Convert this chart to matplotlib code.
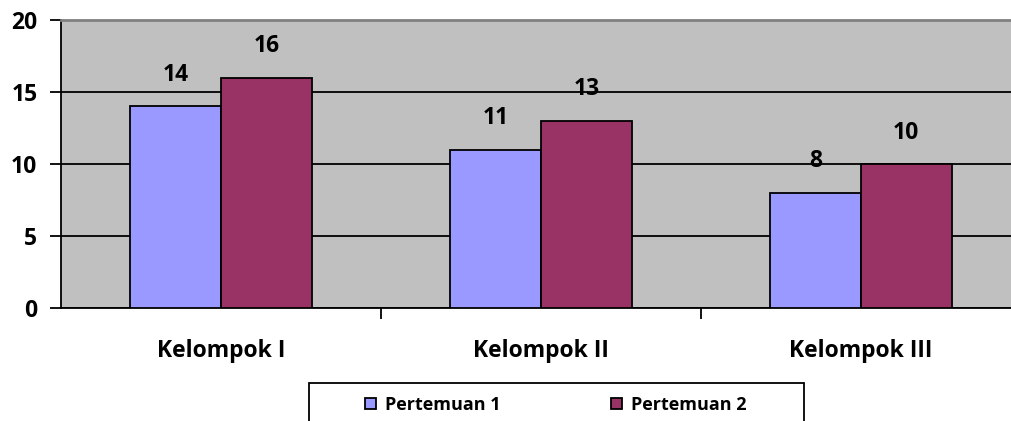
import matplotlib.pyplot as plt
from matplotlib.patches import Rectangle
import numpy as np

categories = ["Kelompok I", "Kelompok II", "Kelompok III"]
pertemuan_1 = [14, 11, 8]
pertemuan_2 = [16, 13, 10]
series_names = ["Pertemuan 1", "Pertemuan 2"]
y_ticks = [0, 5, 10, 15, 20]

plt.rcParams['font.family'] = ['Open Sans', 'DejaVu Sans']
plt.rcParams['font.weight'] = 'bold'

W, H = 1012, 421
fig = plt.figure(figsize=(W / 100, H / 100), dpi=100)
# plot area runs a little past the right edge of the picture
ax = fig.add_axes([61 / W, 1 - 308 / H, 960 / W, 288 / H])
ax.set_facecolor('#C0C0C0')

x = np.arange(len(categories))
bw = 0.283
b1 = ax.bar(x - bw / 2, pertemuan_1, bw, color='#9999FF', edgecolor='black',
            linewidth=1.3, label=series_names[0], zorder=3)
b2 = ax.bar(x + bw / 2, pertemuan_2, bw, color='#993366', edgecolor='black',
            linewidth=1.3, label=series_names[1], zorder=3)
for bars in (b1, b2):
    ax.bar_label(bars, padding=14, fontsize=16.5, fontweight='bold')

ax.set_xlim(-0.5, 2.5)
ax.set_ylim(0, 20)
ax.set_yticks(y_ticks)
ax.set_xticks([0.5, 1.5], minor=False)
ax.set_xticks(x, minor=True)
ax.set_xticklabels([], minor=False)
ax.set_xticklabels(categories, minor=True, fontsize=16.5, fontweight='bold')
ax.tick_params(axis='x', which='minor', length=0, pad=22)
ax.tick_params(axis='x', which='major', length=8, width=1.3, direction='out')
ax.tick_params(axis='y', length=8, width=1.3, direction='out', pad=9, labelsize=16.5)
for lab in ax.get_yticklabels():
    lab.set_fontweight('bold')

ax.yaxis.grid(True, color='black', linewidth=1.3, zorder=1)
ax.set_axisbelow(True)
ax.spines['top'].set_color('#808080')
ax.spines['top'].set_linewidth(2)
ax.spines['right'].set_visible(False)
ax.spines['left'].set_linewidth(1.3)
ax.spines['bottom'].set_linewidth(1.3)

# legend box, open at the bottom edge of the picture
fig.patches.append(Rectangle((309 / W, -0.05), 495 / W, 0.05 + 1 - 383 / H,
                             transform=fig.transFigure, facecolor='white',
                             edgecolor='black', linewidth=1.3))
leg_fs = 13
fig.legend(handles=[b1, b2], loc='center left', ncol=2,
           bbox_to_anchor=(365 / W, 1 - 405 / H),
           prop={'weight': 'bold', 'size': leg_fs}, frameon=False,
           handlelength=0.62, handleheight=0.62, handletextpad=0.5,
           columnspacing=6.1, borderpad=0, borderaxespad=0)

fig.savefig('out.png', dpi=100)
